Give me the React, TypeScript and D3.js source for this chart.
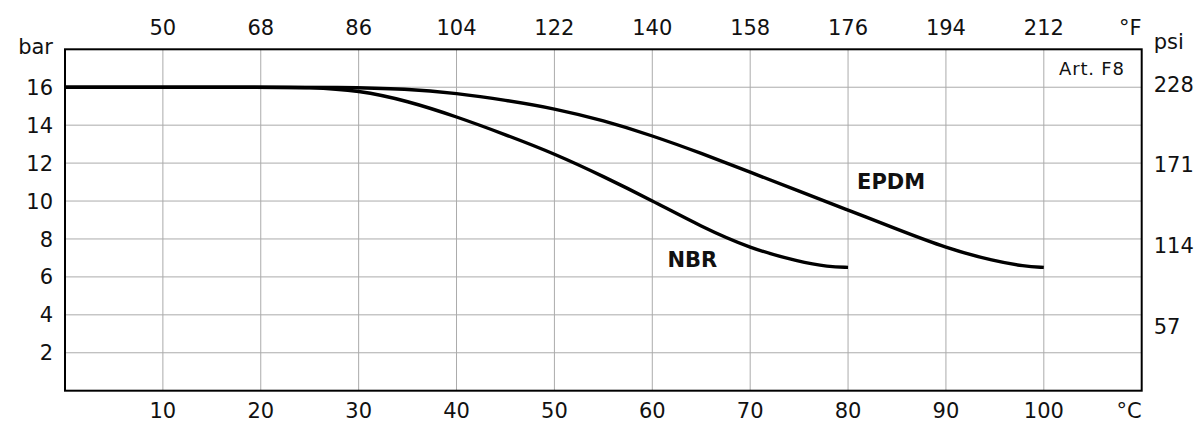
import React from "react";
import * as d3 from "d3";

// temperature ticks (°C bottom, °F top)
const celsiusTicks = [10, 20, 30, 40, 50, 60, 70, 80, 90, 100];
const fahrenheitTicks = ["50", "68", "86", "104", "122", "140", "158", "176", "194", "212"];
const barTicks = [2, 4, 6, 8, 10, 12, 14, 16];
const psiTicks = [57, 114, 171, 228];

// NBR curve
const nbrTemp = [0, 20, 25, 30, 35, 40, 45, 50, 55, 60, 65, 70, 75, 78, 80];
const nbrBar = [16, 16, 16, 15.84, 15.28, 14.45, 13.5, 12.5, 11.3, 10.02, 8.65, 7.5, 6.8, 6.53, 6.5];

// EPDM curve
const epdmTemp = [0, 20, 28, 35, 40, 45, 50, 55, 60, 65, 70, 75, 80, 85, 90, 95, 98, 100];
const epdmBar = [16, 16, 16, 15.92, 15.68, 15.32, 14.88, 14.25, 13.45, 12.52, 11.52, 10.52, 9.52, 8.52, 7.52, 6.82, 6.56, 6.5];

const FONT = "'DejaVu Sans', sans-serif";

const Chart = () => {
  const svgRef = React.useRef(null);
  const width = 1197;
  const height = 423;
  const margin = { top: 49.3, right: 55.3, bottom: 32.3, left: 65 };
  const innerW = width - margin.left - margin.right;
  const innerH = height - margin.top - margin.bottom;

  React.useEffect(() => {
    const x = d3.scaleLinear().domain([0, 110]).range([0, innerW]);
    const y = d3.scaleLinear().domain([0, 18]).range([innerH, 0]);
    // psi labels sit on their own scale in the original
    const yPsi = d3.scaleLinear().domain([0, 252.6]).range([innerH + 16.2, 0]);

    const svgEl = d3.select(svgRef.current);
    svgEl.selectAll("*").remove();
    const svg = svgEl.append("g").attr("transform", `translate(${margin.left},${margin.top})`);

    // grid
    svg.append("g")
      .selectAll("line")
      .data(celsiusTicks)
      .enter()
      .append("line")
      .attr("x1", (d) => x(d)).attr("x2", (d) => x(d))
      .attr("y1", 0).attr("y2", innerH)
      .attr("stroke", "#ababab").attr("stroke-width", 1);
    svg.append("g")
      .selectAll("line")
      .data(barTicks)
      .enter()
      .append("line")
      .attr("x1", 0).attr("x2", innerW)
      .attr("y1", (d) => y(d)).attr("y2", (d) => y(d))
      .attr("stroke", "#ababab").attr("stroke-width", 1);

    // frame
    svg.append("rect")
      .attr("x", 0).attr("y", 0)
      .attr("width", innerW).attr("height", innerH)
      .attr("fill", "none").attr("stroke", "#000").attr("stroke-width", 2);

    const txt = (g, size = 21) =>
      g.attr("font-family", FONT).attr("font-size", size).attr("fill", "#111");

    // bottom °C labels
    txt(svg.append("g"))
      .selectAll("text")
      .data(celsiusTicks)
      .enter()
      .append("text")
      .attr("x", (d) => x(d))
      .attr("y", innerH + 27.5)
      .attr("text-anchor", "middle")
      .text((d) => d);
    txt(svg.append("text"))
      .attr("x", innerW).attr("y", innerH + 27.5)
      .attr("text-anchor", "end")
      .text("°C");

    // top °F labels
    txt(svg.append("g"))
      .selectAll("text")
      .data(fahrenheitTicks)
      .enter()
      .append("text")
      .attr("x", (d, i) => x(celsiusTicks[i]))
      .attr("y", -14.5)
      .attr("text-anchor", "middle")
      .text((d) => d);
    txt(svg.append("text"))
      .attr("x", innerW).attr("y", -14.5)
      .attr("text-anchor", "end")
      .text("°F");

    // left bar labels
    txt(svg.append("g"))
      .selectAll("text")
      .data(barTicks)
      .enter()
      .append("text")
      .attr("x", -12)
      .attr("y", (d) => y(d))
      .attr("dy", "0.36em")
      .attr("text-anchor", "end")
      .text((d) => d);
    txt(svg.append("text"))
      .attr("x", -12).attr("y", 5)
      .attr("text-anchor", "end")
      .text("bar");

    // right psi labels
    txt(svg.append("g"))
      .selectAll("text")
      .data(psiTicks)
      .enter()
      .append("text")
      .attr("x", innerW + 12)
      .attr("y", (d) => yPsi(d))
      .attr("dy", "0.36em")
      .attr("text-anchor", "start")
      .text((d) => d);
    txt(svg.append("text"))
      .attr("x", innerW + 12).attr("y", 0)
      .attr("text-anchor", "start")
      .text("psi");

    txt(svg.append("text"), 18)
      .attr("x", innerW - 17).attr("y", 26)
      .attr("text-anchor", "end")
      .attr("letter-spacing", 0.8)
      .text("Art. F8");

    // curves - basis spline smooths the hand-read points
    const line = d3.line()
      .x((d) => x(d[0]))
      .y((d) => y(d[1]))
      .curve(d3.curveBasis);
    const series = [
      d3.zip(nbrTemp, nbrBar),
      d3.zip(epdmTemp, epdmBar),
    ];
    svg.selectAll(".curve")
      .data(series)
      .enter()
      .append("path")
      .attr("class", "curve")
      .attr("fill", "none")
      .attr("stroke", "#000")
      .attr("stroke-width", 3.4)
      .attr("stroke-linecap", "butt")
      .attr("d", (d) => line(d));

    // series labels
    txt(svg.append("text"))
      .attr("x", x(64.1)).attr("y", y(6.5))
      .attr("text-anchor", "middle")
      .attr("font-weight", "bold")
      .text("NBR");
    txt(svg.append("text"))
      .attr("x", x(84.4)).attr("y", y(10.65))
      .attr("text-anchor", "middle")
      .attr("font-weight", "bold")
      .text("EPDM");
  }, []);

  return (
    <svg
      ref={svgRef}
      width={width}
      height={height}
      style={{ position: "absolute", left: 0, top: 0, background: "#fff" }}
    />
  );
};

export default function App() {
  return <Chart />;
}
